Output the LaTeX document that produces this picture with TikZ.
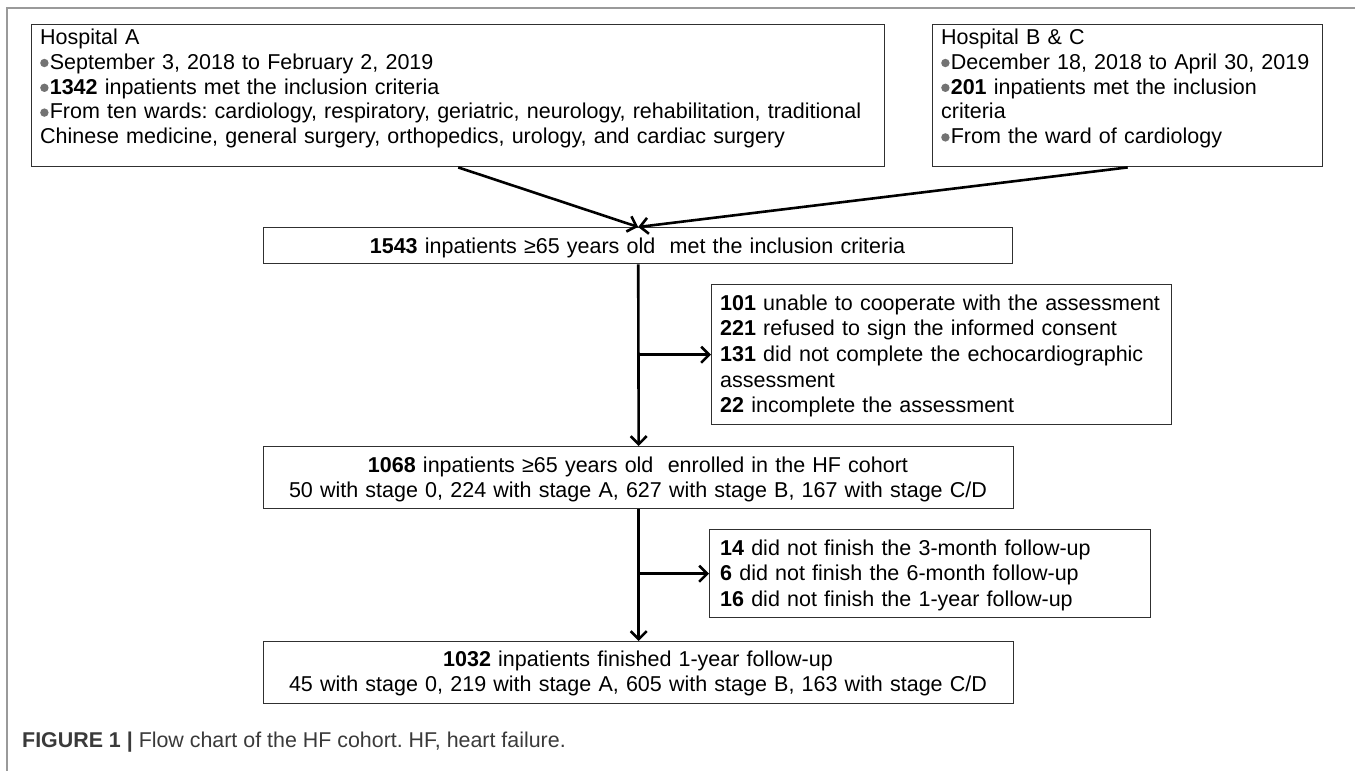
\documentclass[tikz,border=0pt]{standalone}
\usepackage{fontspec}
\setmainfont{Liberation Sans}
\newfontfamily\capfont{Liberation Sans}
\usetikzlibrary{arrows.meta}
\definecolor{bulgray}{HTML}{737373}
\definecolor{framegray}{HTML}{9A9A9A}
\definecolor{boxline}{HTML}{303030}
\definecolor{capgray}{HTML}{3A3A3A}
\newcommand\bul{\tikz[baseline={(0,-6.3pt)}]\fill[bulgray](0,0)circle(4.2pt);\hspace{1.2pt}}
\frenchspacing
\begin{document}
\begin{tikzpicture}[x=1pt,y=-1pt,
  box/.style={draw=boxline, line width=1.4pt, inner sep=0pt, anchor=north west},
  arr/.style={line width=2.6pt, -{Straight Barb[length=8pt,width=16pt]}},
  txt/.style={inner sep=0pt, font=\fontsize{21.5}{24.8}\selectfont, align=left, text width=#1, anchor=base west},
  ctxt/.style={inner sep=0pt, font=\fontsize{21.5}{25}\selectfont, align=center, text width=#1, anchor=base}
]
\useasboundingbox (0,0) rectangle (1355,771);
\fill[white] (0,0) rectangle (1355,771);
\draw[framegray, line width=1.5pt] (1355,8) -- (7,8) -- (7,771);

% boxes
\node[box, minimum width=853pt, minimum height=142pt] (A) at (31,24) {};
\node[box, minimum width=390pt, minimum height=142pt] (B) at (932,24) {};
\node[box, minimum width=749pt, minimum height=36pt] (S) at (263,227) {};
\node[box, minimum width=460pt, minimum height=140pt] (X1) at (711,284) {};
\node[box, minimum width=750pt, minimum height=62pt] (E) at (263,446) {};
\node[box, minimum width=441pt, minimum height=88pt] (X2) at (709,529) {};
\node[box, minimum width=750pt, minimum height=62pt] (F) at (263,641) {};

% texts
\node[txt=850pt] (tA) at (40,44.5) {Hospital A\\
\bul September 3, 2018 to February 2, 2019\\
\bul\textbf{1342} inpatients met the inclusion criteria\\
\bul From ten wards: cardiology, respiratory, geriatric, neurology, rehabilitation, traditional\\
Chinese medicine, general surgery, orthopedics, urology, and cardiac surgery};

\node[txt=378pt] (tB) at (941,44.5) {Hospital B \& C\\
\bul December 18, 2018 to April 30, 2019\\
\bul\textbf{201} inpatients met the inclusion\\
criteria\\
\bul From the ward of cardiology};

\node[ctxt=745pt] (tS) at (637.5,253) {\textbf{1543} inpatients ≥65 years old\ \ met the inclusion criteria};

\node[txt=448pt, font=\fontsize{21.5}{25.7}\selectfont] (tX1) at (720,310) {\textbf{101} unable to cooperate with the assessment\\
\textbf{221} refused to sign the informed consent\\
\textbf{131} did not complete the echocardiographic\\
assessment\\
\textbf{22} incomplete the assessment};

\node[ctxt=745pt] (tE) at (638,472) {\textbf{1068} inpatients ≥65 years old\ \ enrolled in the HF cohort\\
50 with stage 0, 224 with stage A, 627 with stage B, 167 with stage C/D};

\node[txt=428pt, font=\fontsize{21.5}{25.5}\selectfont] (tX2) at (720,555) {\textbf{14} did not finish the 3-month follow-up\\
\textbf{6} did not finish the 6-month follow-up\\
\textbf{16} did not finish the 1-year follow-up};

\node[ctxt=745pt] (tF) at (638,666) {\textbf{1032} inpatients finished 1-year follow-up\\
45 with stage 0, 219 with stage A, 605 with stage B, 163 with stage C/D};

% connectors
\draw[arr] (A.south) -- (S.north);
\draw[arr] (B.south) -- (S.north);
\draw[arr] (S.south) -- (E.north);
\draw[arr] (S.south |- X1.west) -- (X1.west);
\draw[arr] (E.south) -- (F.north);
\draw[arr] (E.south |- X2.west) -- (X2.west);

% caption
\node[anchor=base west, inner sep=0pt, font=\capfont\fontsize{21.4}{24}\selectfont, text=capgray] (cap) at (22,747) {\textbf{FIGURE 1 |} Flow chart of the HF cohort. HF, heart failure.};
\end{tikzpicture}
\end{document}
